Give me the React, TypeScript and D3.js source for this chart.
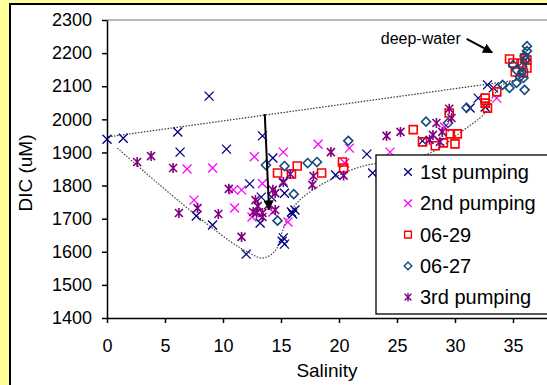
import React, { useEffect, useRef } from "react";
import * as d3 from "d3";

// [salinity, DIC]
const firstPumping: [number, number][] = [
  [0, 1940], [1.4, 1943], [6.1, 1962], [6.3, 1901], [7.7, 1708], [8.8, 2070],
  [9.1, 1681], [10.3, 1910], [12.0, 1593], [12.3, 1805], [13.2, 1687], [13.3, 1765],
  [13.4, 1950], [14.2, 1765], [14.3, 1883], [15.2, 1808], [15.3, 1777], [15.2, 1642],
  [15.3, 1623], [15.1, 1632], [15.9, 1720], [16.2, 1726], [16.0, 1714], [19.7, 1832],
  [22.4, 1895], [22.9, 1838], [27.2, 1935], [31.3, 2034], [32.0, 2064], [32.6, 2037],
  [32.8, 2104], [33.3, 2095],
];
const secondPumping: [number, number][] = [
  [6.9, 1850], [7.5, 1756], [9.1, 1853], [10.9, 1787], [11.0, 1732], [11.6, 1787],
  [12.5, 1705], [12.7, 1887], [13.4, 1806], [14.3, 1720], [15.2, 1901], [15.6, 1690],
  [18.2, 1925], [20.5, 1868], [20.9, 1913], [24.4, 1901], [29.1, 1977], [33.6, 2064],
];
const june29: [number, number][] = [
  [14.7, 1838], [15.9, 1835], [16.4, 1859], [18.5, 1838], [20.3, 1871], [20.4, 1853],
  [26.4, 1969], [27.2, 1932], [28.3, 1920], [29.0, 1929], [29.6, 1956], [30.0, 1926],
  [30.2, 1956], [29.5, 2019], [32.6, 2064], [32.6, 2049], [32.8, 2034], [33.6, 2083],
  [34.7, 2182], [35.0, 2170], [35.2, 2143], [35.8, 2170], [36.0, 2185], [36.2, 2155],
  [35.9, 2140], [36.2, 2179],
];
const june27: [number, number][] = [
  [13.7, 1862], [14.7, 1694], [15.3, 1859], [16.1, 1774], [17.3, 1868], [18.1, 1871],
  [20.8, 1935], [27.5, 1993], [29.4, 1989], [31.0, 2035], [34.1, 2104], [34.7, 2095],
  [35.3, 2110], [35.6, 2128], [35.8, 2143], [35.3, 2149], [35.0, 2164], [35.8, 2158],
  [35.9, 2125], [36.0, 2089], [36.1, 2179], [36.0, 2191], [36.2, 2206], [36.2, 2221],
];
const thirdPumping: [number, number][] = [
  [2.6, 1871], [3.8, 1889], [5.7, 1853], [6.2, 1717], [7.8, 1732], [9.6, 1714],
  [10.5, 1790], [11.6, 1645], [12.6, 1720], [12.8, 1756], [12.9, 1717], [13.0, 1738],
  [13.4, 1717], [13.4, 1705], [13.9, 1741], [14.3, 1787], [14.5, 1777], [14.5, 1726],
  [15.2, 1811], [15.8, 1835], [17.7, 1802], [17.8, 1829], [19.3, 1901], [20.4, 1830],
  [24.1, 1950], [25.3, 1962], [27.8, 1938], [28.1, 1953], [28.4, 1989], [28.7, 1932],
  [28.9, 1962], [29.5, 2032], [29.7, 2004],
];

const seriesNames = ["1st pumping", "2nd pumping", "06-29", "06-27", "3rd pumping"];
const seriesColors = ["#000080", "#FF00FF", "#FF0000", "#164A7C", "#800080"];
const seriesShapes = ["x", "x", "square", "diamond", "star"];

// dotted mixing envelope
const upperEnvelope: [number, number][] = [[0.1, 1947], [35.4, 2119]];
const lowerEnvelope: [number, number][] = [
  [0.9, 1913], [6.3, 1750], [10.6, 1632], [12.1, 1600], [13.4, 1581], [14.5, 1603],
  [15.2, 1670], [15.9, 1726], [16.9, 1765], [19.2, 1817], [21.8, 1856], [27.4, 1892],
  [29.0, 1922], [30.4, 1959], [32.6, 2020], [33.3, 2070], [34.1, 2104], [35.4, 2119],
];
const dropArrow: [number, number][] = [[13.6, 2016], [13.97, 1728]];
const deepArrow: [number, number][] = [[31.0, 2243], [33.2, 2202]];
const deepLabel: [number, number] = [30.5, 2228];

const xTicks = [0, 5, 10, 15, 20, 25, 30, 35];
const yTicks = [1400, 1500, 1600, 1700, 1800, 1900, 2000, 2100, 2200, 2300];

const FONT = "'Liberation Sans', Arial, sans-serif";

function markerPath(shape: string) {
  if (shape === "x") return "M-4.5,-4.5L4.5,4.5M-4.5,4.5L4.5,-4.5";
  if (shape === "star") return "M-4,-4L4,4M-4,4L4,-4M0,-5L0,5";
  if (shape === "square") return "M-4,-4H4V4H-4Z";
  return "M0,-4.5L4.5,0L0,4.5L-4.5,0Z";
}

const App = () => {
  const svgRef = useRef<SVGSVGElement>(null);

  useEffect(() => {
    const svg = d3.select(svgRef.current);
    svg.selectAll("*").remove();

    const x = d3.scaleLinear().domain([0, 40]).range([107, 571]);
    const y = d3.scaleLinear().domain([1400, 2300]).range([318, 20]);

    // background + chart frame
    svg.append("rect").attr("width", 547).attr("height", 385).attr("fill", "#FFFF99");
    svg
      .append("rect")
      .attr("x", 10)
      .attr("y", 4)
      .attr("width", 600)
      .attr("height", 450)
      .attr("fill", "#fff")
      .attr("stroke", "#000")
      .attr("stroke-width", 2);

    // plot area top border
    svg
      .append("line")
      .attr("x1", x(0))
      .attr("x2", x(40))
      .attr("y1", y(2300))
      .attr("y2", y(2300))
      .attr("stroke", "#A0A0A0")
      .attr("stroke-width", 1.5);

    const defs = svg.append("defs");
    defs
      .append("marker")
      .attr("id", "arrowhead")
      .attr("viewBox", "0 0 10 10")
      .attr("refX", 9)
      .attr("refY", 5)
      .attr("markerWidth", 5)
      .attr("markerHeight", 5)
      .attr("orient", "auto")
      .append("path")
      .attr("d", "M0,0L10,5L0,10Z")
      .attr("fill", "#000");

    // envelope
    const line = d3
      .line<[number, number]>()
      .x((d) => x(d[0]))
      .y((d) => y(d[1]));
    svg
      .append("path")
      .attr("d", line(upperEnvelope))
      .attr("fill", "none")
      .attr("stroke", "#333")
      .attr("stroke-width", 1.2)
      .attr("stroke-dasharray", "1.5,1.5");
    svg
      .append("path")
      .attr("d", line.curve(d3.curveCatmullRom)(lowerEnvelope))
      .attr("fill", "none")
      .attr("stroke", "#444")
      .attr("stroke-width", 1.2)
      .attr("stroke-dasharray", "1.5,1.5");

    // axes
    const yAxis = svg
      .append("g")
      .attr("transform", `translate(${x(0)},0)`)
      .call(
        d3
          .axisLeft(y)
          .tickValues(yTicks)
          .tickFormat(d3.format("d"))
          .tickSize(5)
          .tickSizeOuter(0)
          .tickPadding(10)
      );
    const xAxis = svg
      .append("g")
      .attr("transform", `translate(0,${y(1400)})`)
      .call(
        d3
          .axisBottom(x)
          .tickValues(xTicks)
          .tickFormat(d3.format("d"))
          .tickSize(5)
          .tickSizeOuter(0)
          .tickPadding(16)
      );
    [yAxis, xAxis].forEach((ax) => {
      ax.selectAll("path, line").attr("stroke", "#000").attr("stroke-width", 1.5);
      ax.selectAll("text")
        .attr("fill", "#000")
        .style("font-family", FONT)
        .style("font-size", "18px");
    });

    // series
    const allSeries = [firstPumping, secondPumping, june29, june27, thirdPumping];
    allSeries.forEach((pts, i) => {
      svg
        .append("g")
        .selectAll("path")
        .data(pts)
        .enter()
        .append("path")
        .attr("transform", (d) => `translate(${x(d[0])},${y(d[1])})`)
        .attr("d", markerPath(seriesShapes[i]))
        .attr("fill", "none")
        .attr("stroke", seriesColors[i])
        .attr("stroke-width", seriesShapes[i] === "x" ? 1.3 : 1.6);
    });

    // drop arrow
    svg
      .append("line")
      .attr("x1", x(dropArrow[0][0]))
      .attr("y1", y(dropArrow[0][1]))
      .attr("x2", x(dropArrow[1][0]))
      .attr("y2", y(dropArrow[1][1]))
      .attr("stroke", "#000")
      .attr("stroke-width", 2)
      .attr("marker-end", "url(#arrowhead)");

    // deep-water annotation
    svg
      .append("line")
      .attr("x1", x(deepArrow[0][0]))
      .attr("y1", y(deepArrow[0][1]))
      .attr("x2", x(deepArrow[1][0]))
      .attr("y2", y(deepArrow[1][1]))
      .attr("stroke", "#000")
      .attr("stroke-width", 2)
      .attr("marker-end", "url(#arrowhead)");
    svg
      .append("text")
      .attr("x", x(deepLabel[0]))
      .attr("y", y(deepLabel[1]))
      .attr("text-anchor", "end")
      .style("font-family", FONT)
      .style("font-size", "16px")
      .text("deep-water");

    // axis titles
    svg
      .append("text")
      .attr("x", 327)
      .attr("y", 377)
      .attr("text-anchor", "middle")
      .style("font-family", FONT)
      .style("font-size", "19px")
      .text("Salinity");
    svg
      .append("text")
      .attr("transform", "translate(32,173) rotate(-90)")
      .attr("text-anchor", "middle")
      .style("font-family", FONT)
      .style("font-size", "19px")
      .text("DIC (uM)");

    // legend
    const legend = svg.append("g").attr("transform", "translate(376,155)");
    legend
      .append("rect")
      .attr("width", 200)
      .attr("height", 159)
      .attr("fill", "#fff")
      .attr("stroke", "#000")
      .attr("stroke-width", 1.3);
    const rows = legend
      .selectAll(".row")
      .data(seriesNames)
      .enter()
      .append("g")
      .attr("class", "row")
      .attr("transform", (d, i) => `translate(0,${17 + i * 31.3})`);
    rows
      .append("path")
      .attr("transform", "translate(32,0) scale(0.85)")
      .attr("d", (d, i) => markerPath(seriesShapes[i]))
      .attr("fill", "none")
      .attr("stroke", (d, i) => seriesColors[i])
      .attr("stroke-width", 1.6);
    rows
      .append("text")
      .attr("x", 44)
      .attr("y", 7)
      .style("font-family", FONT)
      .style("font-size", "20px")
      .text((d) => d);
  }, []);

  return (
    <svg
      ref={svgRef}
      width={547}
      height={385}
      style={{ position: "absolute", left: 0, top: 0, overflow: "hidden" }}
    ></svg>
  );
};

export default App;
